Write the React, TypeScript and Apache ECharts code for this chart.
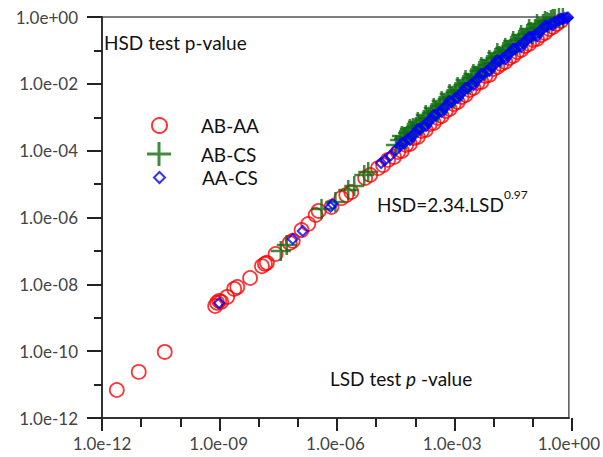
import React, { useEffect, useRef } from "react";
import * as echarts from "echarts";

// Axis ticks (values and their decade exponents)
const xMajorTicks = [1e-12, 1e-9, 1e-6, 1e-3, 1];
const yMajorTicks = [1e-12, 1e-10, 1e-8, 1e-6, 1e-4, 1e-2, 1];
const decadeRange = [-12, 0];
const xMajorStep = 3;
const yMajorStep = 2;
const minorStep = 1;

const seriesNames = ["AB-AA", "AB-CS", "AA-CS"];

// [LSD p-value, HSD p-value]
const abAA = [
  [2.4e-12, 6.9e-12], [8.8e-12, 2.4e-11], [4.1e-11, 9.5e-11],
  [8.1e-10, 2.25e-9], [9.1e-10, 2.8e-9], [1.03e-9, 3.2e-9], [1.16e-9, 3.0e-9],
  [1.65e-9, 4.2e-9], [2.5e-9, 7.3e-9], [3.0e-9, 8.3e-9], [6.4e-9, 1.55e-8],
  [1.29e-8, 3.5e-8], [1.54e-8, 4.1e-8], [1.73e-8, 4.4e-8], [2.9e-8, 8.1e-8],
  [6.7e-8, 1.73e-7], [8.0e-8, 2.0e-7], [1.35e-7, 4.2e-7], [2.0e-7, 6.4e-7],
  [3.1e-7, 1.19e-6], [3.7e-7, 1.57e-6], [7.9e-7, 2.06e-6], [1.42e-6, 3.8e-6],
  [1.9e-6, 4.7e-6], [2.56e-6, 5.8e-6], [5.8e-6, 1.52e-5], [7.8e-6, 1.87e-5],
  [1.25e-5, 3.0e-5], [1.68e-5, 3.7e-5], [2.25e-5, 5.3e-5],
  [3.21e-5, 6.47e-5], [4.06e-5, 9.14e-5], [5.1e-5, 9.79e-5], [6.5e-5, 1.48e-4],
  [8.2e-5, 1.58e-4], [1.04e-4, 2.4e-4], [1.31e-4, 2.57e-4], [1.66e-4, 3.88e-4],
  [2.1e-4, 4.16e-4], [2.66e-4, 6.29e-4], [3.37e-4, 6.74e-4], [4.26e-4, 9.51e-4],
  [5.38e-4, 1.09e-3], [6.81e-4, 1.54e-3], [8.61e-4, 1.77e-3], [1.09e-3, 2.49e-3],
  [1.38e-3, 2.86e-3], [1.75e-3, 4.04e-3], [2.21e-3, 4.64e-3], [2.79e-3, 6.54e-3],
  [3.53e-3, 7.51e-3], [4.47e-3, 1.06e-2], [5.65e-3, 1.14e-2], [7.14e-3, 1.72e-2],
  [9.05e-3, 1.84e-2], [1.15e-2, 2.78e-2], [1.45e-2, 3.19e-2], [1.83e-2, 3.92e-2],
  [2.32e-2, 4.5e-2], [2.93e-2, 5.93e-2], [3.71e-2, 6.81e-2], [4.69e-2, 8.97e-2],
  [5.93e-2, 0.103], [7.5e-2, 0.136], [9.51e-2, 0.156], [0.12, 0.205],
  [0.152, 0.22], [0.192, 0.289], [0.243, 0.332], [0.308, 0.438],
  [0.389, 0.502], [0.492, 0.618], [0.624, 0.759],
];

const abCS = [
  [3.94e-8, 1.0e-7], [5.61e-8, 1.51e-7], [4.39e-7, 1.8e-6], [1.0e-6, 2.92e-6],
  [2.14e-6, 6.67e-6], [3.05e-6, 8.78e-6], [5.5e-6, 1.87e-5], [6.95e-6, 2.3e-5],
  [6.1e-5, 2.57e-4], [9.8e-5, 4.78e-4],
  [3.61e-5, 1.48e-4], [4.6e-5, 2.09e-4], [5.8e-5, 2.24e-4], [7.3e-5, 3.38e-4],
  [9.2e-5, 3.62e-4], [1.17e-4, 5.12e-4], [1.48e-4, 5.87e-4], [1.87e-4, 8.29e-4],
  [2.37e-4, 9.51e-4], [2.99e-4, 1.34e-3], [3.79e-4, 1.54e-3], [4.79e-4, 2.17e-3],
  [6.05e-4, 2.49e-3], [7.66e-4, 3.52e-3], [9.68e-4, 4.04e-3], [1.22e-3, 5.7e-3],
  [1.55e-3, 6.54e-3], [1.96e-3, 9.23e-3], [2.48e-3, 1.06e-2], [3.14e-3, 1.5e-2],
  [3.97e-3, 1.72e-2], [5.02e-3, 2.42e-2], [6.35e-3, 2.78e-2], [8.04e-3, 3.66e-2],
  [1.02e-2, 4.2e-2], [1.29e-2, 5.93e-2], [1.63e-2, 6.81e-2], [2.06e-2, 8.97e-2],
  [2.61e-2, 0.103], [3.3e-2, 0.136], [4.17e-2, 0.156], [5.27e-2, 0.205],
  [6.67e-2, 0.235], [8.45e-2, 0.31], [0.107, 0.356], [0.135, 0.438],
  [0.171, 0.502], [0.216, 0.618], [0.274, 0.708], [0.346, 0.813],
  [0.438, 0.871], [0.555, 0.933], [0.702, 0.933],
  [5.1e-5, 2.75e-4], [6.5e-5, 2.24e-4], [8.2e-5, 4.46e-4], [1.04e-4, 3.62e-4],
  [1.31e-4, 7.22e-4], [1.66e-4, 5.87e-4], [2.1e-4, 1.17e-3], [2.66e-4, 9.51e-4],
  [3.37e-4, 1.89e-3], [4.26e-4, 1.44e-3], [5.38e-4, 3.07e-3], [6.81e-4, 2.33e-3],
  [8.61e-4, 4.97e-3], [1.09e-3, 3.77e-3], [1.38e-3, 8.05e-3], [1.75e-3, 6.11e-3],
  [2.21e-3, 1.3e-2], [2.79e-3, 9.89e-3], [3.53e-3, 1.97e-2], [4.47e-3, 1.6e-2],
  [5.65e-3, 3.19e-2], [7.14e-3, 2.59e-2], [9.05e-3, 5.17e-2], [1.15e-2, 4.2e-2],
  [1.45e-2, 8.37e-2], [1.83e-2, 6.35e-2], [2.32e-2, 0.118], [2.93e-2, 9.61e-2],
  [3.71e-2, 0.191], [4.69e-2, 0.145], [5.93e-2, 0.289], [7.5e-2, 0.22],
  [9.51e-2, 0.438], [0.12, 0.31], [0.152, 0.618], [0.192, 0.469],
  [0.243, 0.759], [0.308, 0.661], [0.389, 0.871],
];

const aaCS = [
  [1.03e-9, 2.77e-9], [8.0e-8, 2.28e-7], [1.44e-7, 3.95e-7], [7.45e-7, 2.07e-6],
  [8.4e-7, 2.54e-6], [1.49e-5, 4.28e-5], [1.89e-5, 5.26e-5], [2.54e-5, 6.94e-5],
  [3.61e-5, 1.05e-4], [4.6e-5, 1.38e-4], [5.8e-5, 1.7e-4], [7.3e-5, 2.24e-4],
  [9.2e-5, 2.75e-4], [1.17e-4, 3.38e-4], [1.48e-4, 4.46e-4], [1.87e-4, 5.48e-4],
  [2.37e-4, 7.22e-4], [2.99e-4, 8.88e-4], [3.79e-4, 1.17e-3], [4.79e-4, 1.44e-3],
  [6.05e-4, 1.89e-3], [7.66e-4, 2.33e-3], [9.68e-4, 2.86e-3], [1.22e-3, 3.77e-3],
  [1.55e-3, 4.64e-3], [1.96e-3, 6.11e-3], [2.48e-3, 7.51e-3], [3.14e-3, 9.89e-3],
  [3.97e-3, 1.22e-2], [5.02e-3, 1.5e-2], [6.35e-3, 1.97e-2], [8.04e-3, 2.42e-2],
  [1.02e-2, 3.19e-2], [1.29e-2, 3.92e-2], [1.63e-2, 4.83e-2], [2.06e-2, 5.93e-2],
  [2.61e-2, 7.29e-2], [3.3e-2, 8.97e-2], [4.17e-2, 0.11], [5.27e-2, 0.136],
  [6.67e-2, 0.167], [8.45e-2, 0.205], [0.107, 0.252], [0.135, 0.289],
  [0.171, 0.356], [0.216, 0.438], [0.274, 0.538], [0.346, 0.618],
  [0.438, 0.708], [0.555, 0.813], [0.702, 0.871], [0.789, 0.933],
  [0.887, 0.933], [0.95, 0.97],
  [5.1e-5, 1.7e-4], [8.2e-5, 2.09e-4], [1.31e-4, 4.46e-4], [2.1e-4, 5.48e-4],
  [3.37e-4, 1.17e-3], [5.38e-4, 1.44e-3], [8.61e-4, 3.07e-3], [1.38e-3, 3.77e-3],
  [2.21e-3, 7.51e-3], [3.53e-3, 9.23e-3], [5.65e-3, 1.97e-2], [9.05e-3, 2.42e-2],
  [1.45e-2, 5.17e-2], [2.32e-2, 5.54e-2], [3.71e-2, 0.11], [5.93e-2, 0.127],
  [9.51e-2, 0.252], [0.152, 0.27], [0.243, 0.538], [0.389, 0.577], [0.624, 0.871],
];

const PLUS = "path://M10.5,0H13.5V10.5H24V13.5H13.5V24H10.5V13.5H0V10.5H10.5Z";
const DIAMOND = "path://M5,0L10,5L5,10L0,5Z";
const FONT = "Lato";
const TEXT_SIZE = 19;
const GREEN = "#0f6e0f";

const fmtExp = (v: number) => {
  const [m, e] = Number(v).toExponential(1).split("e");
  const sign = e[0] === "-" ? "-" : "+";
  const d = e.replace(/^[-+]/, "").padStart(2, "0");
  return `${m}e${sign}${d}`;
};

export default function App() {
  const ref = useRef<HTMLDivElement>(null);
  useEffect(() => {
    if (!ref.current) return;
    const chart = echarts.init(ref.current, null, { renderer: "svg" });
    const gridRect = { left: 102, top: 17, right: 31, bottom: 39 };
    const tickLine = { color: "#222", width: 2 };
    const logCommon = {
      type: "log",
      logBase: 10,
      min: 1e-12,
      max: 1,
      splitLine: { show: false },
      minorTick: { show: false },
      axisTick: { show: false },
    };
    // Tick-only exponent axes (same span as the log axes, in decades)
    const tickAxis = (gridIndex: number, position: string, step: number, length: number) => ({
      type: "value",
      gridIndex,
      position,
      min: decadeRange[0],
      max: decadeRange[1],
      interval: step,
      axisLine: { show: false, onZero: false },
      axisTick: { show: true, length, lineStyle: tickLine },
      axisLabel: { show: false },
      splitLine: { show: false },
    });
    const legendText = (pad: number) => ({
      fontSize: TEXT_SIZE,
      fontFamily: FONT,
      color: "#111",
      padding: [0, 0, 0, pad],
    });
    chart.setOption({
      animation: false,
      backgroundColor: "#fff",
      grid: [
        {
          ...gridRect,
          show: true,
          borderColor: "#555",
          borderWidth: 1.5,
          backgroundColor: "transparent",
        },
        { ...gridRect, show: false },
        { ...gridRect, show: false },
      ],
      xAxis: [
        {
          ...logCommon,
          gridIndex: 0,
          position: "bottom",
          axisLine: { show: true, onZero: false, lineStyle: { color: "#333", width: 2 } },
          axisLabel: {
            customValues: xMajorTicks,
            formatter: fmtExp,
            fontSize: 17,
            fontFamily: FONT,
            color: "#444",
            margin: 17,
          },
        },
        tickAxis(1, "bottom", minorStep, 9),
        tickAxis(2, "bottom", xMajorStep, 13),
      ],
      yAxis: [
        {
          ...logCommon,
          gridIndex: 0,
          position: "left",
          axisLine: { show: true, onZero: false, lineStyle: { color: "#333", width: 2 } },
          axisLabel: {
            customValues: yMajorTicks,
            formatter: fmtExp,
            fontSize: 17,
            fontFamily: FONT,
            color: "#444",
            margin: 24,
          },
        },
        tickAxis(1, "left", minorStep, 8),
        tickAxis(2, "left", yMajorStep, 15),
      ],
      legend: [
        {
          data: [seriesNames[0]],
          left: 151,
          top: 116,
          padding: 0,
          itemWidth: 15,
          itemHeight: 15,
          selectedMode: false,
          itemStyle: { color: "rgba(0,0,0,0)", borderColor: "#ff0000", borderWidth: 2 },
          textStyle: legendText(29),
        },
        {
          data: [seriesNames[1]],
          left: 147,
          top: 142,
          padding: 0,
          itemWidth: 24,
          itemHeight: 24,
          selectedMode: false,
          itemStyle: { color: GREEN, borderWidth: 0 },
          textStyle: legendText(25),
        },
        {
          data: [seriesNames[2]],
          left: 153,
          top: 168,
          padding: 0,
          itemWidth: 11,
          itemHeight: 11,
          selectedMode: false,
          itemStyle: { color: "rgba(0,0,0,0)", borderColor: "#0000ff", borderWidth: 2 },
          textStyle: legendText(32),
        },
      ],
      graphic: [
        {
          type: "text",
          left: 104,
          top: 33,
          style: { text: "HSD test p-value", fontSize: TEXT_SIZE, fontFamily: FONT, fill: "#111" },
        },
        {
          type: "text",
          left: 330,
          top: 369,
          style: {
            text: "{a|LSD test }{i|p}{a| -value}",
            rich: {
              a: { fontSize: TEXT_SIZE, fontFamily: FONT, fill: "#111" },
              i: { fontSize: TEXT_SIZE, fontFamily: FONT, fontStyle: "italic", fill: "#111" },
            },
          },
        },
        {
          type: "text",
          left: 377,
          top: 195,
          style: { text: "HSD=2.34.LSD", fontSize: TEXT_SIZE, fontFamily: FONT, fill: "#111" },
        },
        {
          type: "text",
          left: 504,
          top: 188,
          style: { text: "0.97", fontSize: 12, fontFamily: FONT, fill: "#111" },
        },
      ],
      series: [
        {
          name: seriesNames[0],
          type: "scatter",
          xAxisIndex: 0,
          yAxisIndex: 0,
          data: abAA,
          symbol: "circle",
          symbolSize: 14,
          itemStyle: { color: "rgba(0,0,0,0)", borderColor: "#ff0000", borderWidth: 1.8 },
          emphasis: { disabled: true },
          clip: false,
        },
        {
          name: seriesNames[1],
          type: "scatter",
          xAxisIndex: 0,
          yAxisIndex: 0,
          data: abCS,
          symbol: PLUS,
          symbolSize: 20,
          itemStyle: { color: GREEN },
          emphasis: { disabled: true },
          clip: false,
        },
        {
          name: seriesNames[2],
          type: "scatter",
          xAxisIndex: 0,
          yAxisIndex: 0,
          data: aaCS,
          symbol: DIAMOND,
          symbolSize: 10,
          itemStyle: { color: "rgba(0,0,0,0)", borderColor: "#0000ff", borderWidth: 2 },
          emphasis: { disabled: true },
          clip: false,
        },
      ],
    });
    return () => chart.dispose();
  }, []);
  return (
    <div
      ref={ref}
      style={{ position: "fixed", left: 0, top: 0, width: 603, height: 457 }}
    />
  );
}
